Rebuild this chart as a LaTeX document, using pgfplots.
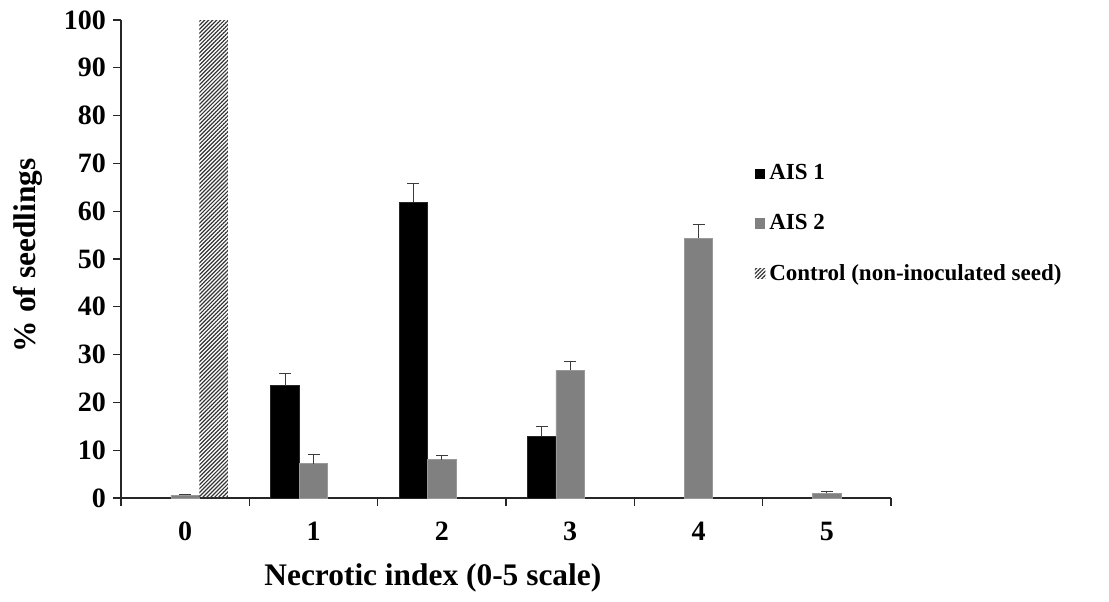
\documentclass[border=0pt]{standalone}
\usepackage{pgfplots}
\pgfplotsset{compat=1.18}
\usepackage{fontspec}
\setmainfont{Liberation Serif}
\usetikzlibrary{patterns.meta}
\definecolor{ais2}{RGB}{128,128,128}
\definecolor{errc}{RGB}{60,60,60}

\begin{document}
\begin{tikzpicture}
\useasboundingbox (0,0) rectangle (554.5pt,300.5pt);
\begin{axis}[
    at={(60.5pt,51.5pt)}, anchor=south west,
    scale only axis, width=385pt, height=239pt,
    xmin=-0.5, xmax=5.5, ymin=0, ymax=100,
    clip=false,
    axis x line*=bottom, axis y line*=left,
    axis line style={line width=0.6pt, black!85},
    tick style={line width=0.6pt, black!85},
    tick align=outside, major tick length=4pt,
    xtick={-0.5,0.5,1.5,2.5,3.5,4.5,5.5},
    xticklabels={0,1,2,3,4,5},
    x tick label as interval,
    ytick={0,10,...,100},
    tick label style={font=\bfseries\fontsize{14}{16}\selectfont},
    xticklabel style={yshift=-4.5pt},
    /pgf/number format/assume math mode=true,
    xlabel={Necrotic index (0-5 scale)},
    ylabel={\% of seedlings},
    label style={font=\bfseries\fontsize{15.7}{18}\selectfont},
    xlabel style={at={(axis description cs:0.405,0)}, anchor=center, yshift=-40pt},
    ylabel style={at={(axis description cs:0,0.508)}, anchor=center, yshift=46.5pt},
    legend style={draw=none, fill=none, at={(rel axis cs:0.815,0.715)}, anchor=north west,
        font=\bfseries\fontsize{11.5}{13}\selectfont, row sep=11.75pt,
        /tikz/every even column/.append style={column sep=2pt}},
    legend cell align=left,
    lg/.style={legend image code/.code={\draw[##1,draw=none] (0pt,-2.6pt) rectangle (5.2pt,2.6pt);}},
    eb/.style={error bars/.cd, y dir=plus, y explicit,
        error bar style={line width=0.5pt, errc},
        error mark options={errc, line width=0.5pt, mark size=3pt, rotate=90}},
]

% AIS 1 (left bar of each group: index - 0.222)
\addplot[ybar, bar width=0.222, bar shift=0, fill=black, draw=black!85, line width=0.3pt, lg, eb]
    coordinates {(0.778,23.5) +- (0,2.5) (1.778,61.9) +- (0,3.9) (2.778,12.9) +- (0,2.0)};

% AIS 2 (centre bar)
\addplot[ybar, bar width=0.222, bar shift=0, fill=ais2, draw=black!40, line width=0.3pt, lg, eb]
    coordinates {(0,0.6) +- (0,0.2) (1,7.2) +- (0,1.9) (2,8.0) +- (0,0.8)
                 (3,26.7) +- (0,1.8) (4,54.3) +- (0,2.9) (5,1.0) +- (0,0.4)};

% Control (right bar: index + 0.222)
\addplot[ybar, bar width=0.222, bar shift=0, draw=none,
    pattern={Lines[angle=45, distance=1.4pt, line width=0.6pt]}, pattern color=black!80, lg]
    coordinates {(0.222,100)};

\legend{AIS 1, AIS 2, Control (non-inoculated seed)}
\end{axis}
\end{tikzpicture}
\end{document}
